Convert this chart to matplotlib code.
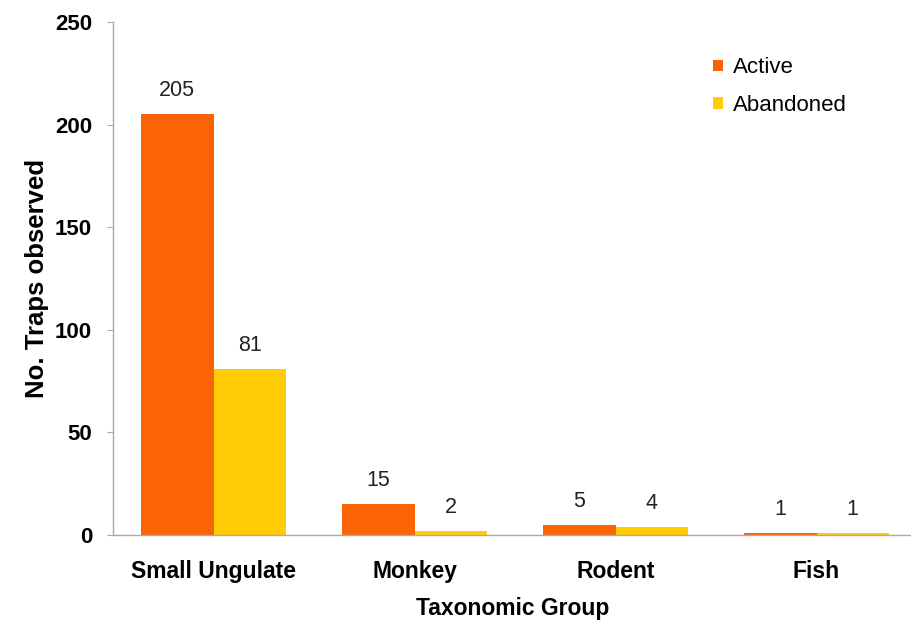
import matplotlib
matplotlib.use("Agg")
import matplotlib.pyplot as plt
import numpy as np

plt.rcParams['font.family'] = ['Liberation Sans', 'DejaVu Sans']

groups = ["Small Ungulate", "Monkey", "Rodent", "Fish"]
active = [205, 15, 5, 1]
abandoned = [81, 2, 4, 1]
yticks = [0, 50, 100, 150, 200, 250]

c_active = "#FA6405"
c_abandoned = "#FFCC05"

fig = plt.figure(figsize=(9.12, 6.22), dpi=100)
ax = fig.add_axes([113 / 912, 1 - 535 / 622, 799 / 912, 513 / 622])

x = np.arange(len(groups))
w = 0.36
b1 = ax.bar(x - w / 2, active, w, color=c_active, label="Active")
b2 = ax.bar(x + w / 2, abandoned, w, color=c_abandoned, label="Abandoned")

for bars, vals in ((b1, active), (b2, abandoned)):
    for r, v in zip(bars, vals):
        ax.annotate(str(v), (r.get_x() + r.get_width() / 2, v),
                    xytext=(0, 17), textcoords="offset points",
                    ha="center", va="center", fontsize=15.5, color="#222222")

ax.set_xlim(-0.5, 3.475)
ax.set_ylim(0, 250)
ax.set_yticks(yticks)
ax.set_yticklabels([str(t) for t in yticks], fontsize=16, fontweight="bold")
ax.set_xticks(x)
ax.set_xticklabels(groups, fontsize=16.5, fontweight="bold")
ax.tick_params(axis="x", length=0, pad=18)
ax.tick_params(axis="y", length=4, color="#aaaaaa", pad=11)

for s in ("top", "right"):
    ax.spines[s].set_visible(False)
for s in ("left", "bottom"):
    ax.spines[s].set_color("#aaaaaa")
    ax.spines[s].set_linewidth(1.0)

ax.set_xlabel("Taxonomic Group", fontsize=16.5, fontweight="bold", labelpad=10)
ax.set_ylabel("No. Traps observed", fontsize=18.5, fontweight="bold", labelpad=4)

leg = ax.legend(loc="upper left", bbox_to_anchor=(0.726, 0.97), frameon=False,
                fontsize=16, handlelength=0.45, handleheight=0.45,
                handletextpad=0.45, labelspacing=0.75)

fig.savefig("out.png", dpi=100)
